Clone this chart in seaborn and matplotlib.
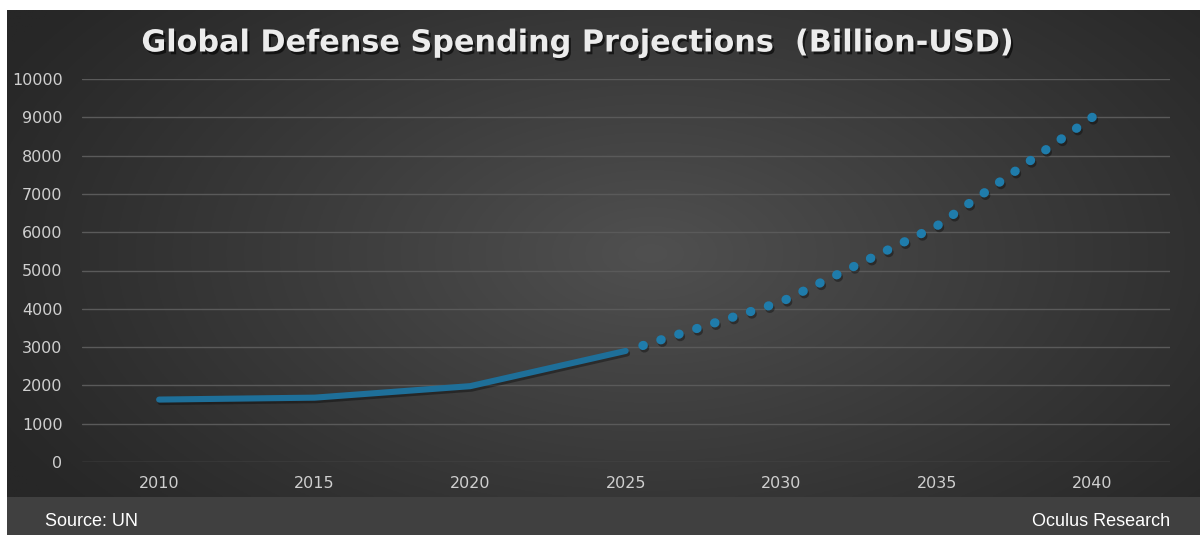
import numpy as np
import pandas as pd
import matplotlib
matplotlib.use("Agg")
import matplotlib.pyplot as plt
import matplotlib.patheffects as pe
from matplotlib.patches import Rectangle
import seaborn as sns

# ---- data ----
years_actual = [2010, 2015, 2020, 2025]
spend_actual = [1630, 1680, 1980, 2900]
years_proj = [2025, 2030, 2035, 2040]
spend_proj = [2900, 4180, 6160, 9000]
x_ticks = [2010, 2015, 2020, 2025, 2030, 2035, 2040]
y_ticks = [0, 1000, 2000, 3000, 4000, 5000, 6000, 7000, 8000, 9000, 10000]
title = "Global Defense Spending Projections  (Billion-USD)"
source_text = "Source: UN"
brand_text = "Oculus Research"

sns.set_theme(style="dark")
plt.rcParams["font.family"] = ["DejaVu Sans"]

W, H = 1200, 535
fig = plt.figure(figsize=(W / 100, H / 100), dpi=100, facecolor="white")

# background panel with radial gradient
bx0, by_top, bx1, by_bot = 7, 10, 1200, 497
bg = fig.add_axes([bx0 / W, (H - by_bot) / H, (bx1 - bx0) / W, (by_bot - by_top) / H])
bg.set_axis_off()
gx = np.linspace(0, 1, 600)
gy = np.linspace(0, 1, 250)
GX, GY = np.meshgrid(gx, gy)
r = np.sqrt(((GX - 0.54) / 0.62) ** 2 + ((GY - 0.50) / 0.85) ** 2)
t = np.clip(1 - r, 0, 1) ** 1.1
c_edge = np.array([0x27, 0x27, 0x27]) / 255
c_mid = np.array([0x50, 0x50, 0x50]) / 255
img = c_edge[None, None, :] + (c_mid - c_edge)[None, None, :] * t[:, :, None]
bg.imshow(img, aspect="auto", extent=[0, 1, 0, 1], origin="lower")
bg.set_xlim(0, 1)
bg.set_ylim(0, 1)

# footer band
fig.patches.append(Rectangle((bx0 / W, 0), (bx1 - bx0) / W, (H - by_bot) / H,
                             transform=fig.transFigure, facecolor="#404040",
                             edgecolor="none", zorder=0))

# main axes
ax_l, ax_r, ax_t, ax_b = 82, 1170, 79, 462
ax = fig.add_axes([ax_l / W, (H - ax_b) / H, (ax_r - ax_l) / W, (ax_b - ax_t) / H])
ax.set_facecolor("none")

df_a = pd.DataFrame({"year": years_actual, "spend": spend_actual})
# projection drawn from the far end so a dot sits on the 2040 value
df_p = pd.DataFrame({"year": years_proj[::-1], "spend": spend_proj[::-1]})

line_color = "#1e6f99"
dot_color = "#1f7cab"
shadow = [pe.SimpleLineShadow(offset=(1.0, -1.8), shadow_color="black", alpha=0.35), pe.Normal()]

sns.lineplot(data=df_p, x="year", y="spend", ax=ax, color=dot_color, lw=6.6,
             sort=False, zorder=3)
lp = ax.lines[-1]
lp.set_linestyle((0, (0.05, 2.0)))
lp.set_dash_capstyle("round")
lp.set_path_effects(shadow)

sns.lineplot(data=df_a, x="year", y="spend", ax=ax, color=line_color, lw=4.4, zorder=4)
la = ax.lines[-1]
la.set_solid_capstyle("round")
la.set_solid_joinstyle("round")
la.set_path_effects(shadow)

ax.set_xlim(2007.52, 2042.5)
ax.set_ylim(0, 10000)
ax.set_xticks(x_ticks)
ax.set_xticklabels([str(v) for v in x_ticks])
ax.set_yticks(y_ticks)
ax.set_yticklabels([str(v) for v in y_ticks])
ax.set_xlabel("")
ax.set_ylabel("")
ax.grid(axis="y", color="#5a5a5a", lw=1.0)
ax.grid(axis="x", visible=False)
for s in ax.spines.values():
    s.set_visible(False)
ax.tick_params(axis="both", length=0, colors="#cfcfcf", labelsize=11.5)
ax.tick_params(axis="y", pad=14)
ax.tick_params(axis="x", pad=10)
for lab in ax.get_yticklabels() + ax.get_xticklabels():
    lab.set_clip_on(False)
    lab.set_family(["DejaVu Sans"])

# title
fig.text(576 / W, 1 - 43 / H, title, ha="center", va="center", fontsize=21.8,
         fontweight="bold", color="#ececec",
         path_effects=[pe.withSimplePatchShadow(offset=(1.5, -2), shadow_rgbFace="black", alpha=0.6)])

# footer texts
fig.text(45 / W, 1 - 522 / H, source_text, ha="left", va="center", fontsize=13,
         color="white", family=["Liberation Sans", "DejaVu Sans"])
fig.text(1170 / W, 1 - 522 / H, brand_text, ha="right", va="center", fontsize=13,
         color="white", family=["Liberation Sans", "DejaVu Sans"])

fig.savefig("out.png", dpi=100, facecolor="white")
